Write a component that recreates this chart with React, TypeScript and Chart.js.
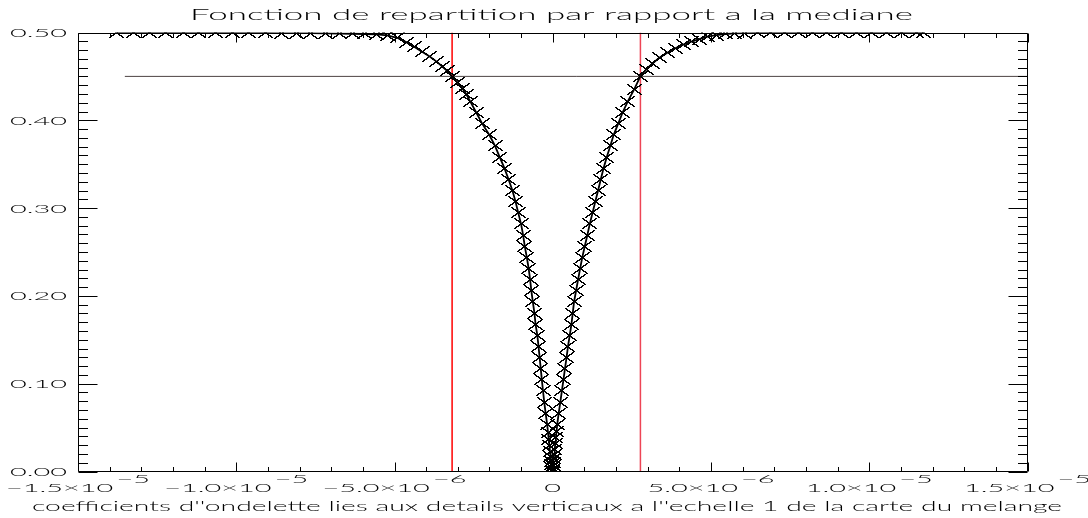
import { useEffect, useRef } from "react";
import { Chart, registerables } from "chart.js";

Chart.register(...registerables);

// ---- data ----
const leftX = [
  -13.77e-6, -13.26e-6, -12.73e-6, -12.22e-6, -11.68e-6, -11.18e-6, -10.64e-6, -10.13e-6,
  -9.6e-6, -9.09e-6, -8.58e-6, -8.11e-6, -7.64e-6, -7.19e-6, -6.75e-6, -6.34e-6,
  -5.96e-6, -5.58e-6, -5.23e-6, -4.92e-6, -4.63e-6, -4.38e-6, -4.13e-6, -3.9e-6,
  -3.68e-6, -3.49e-6, -3.34e-6, -3.18e-6, -3.02e-6, -2.86e-6, -2.73e-6, -2.608e-6,
  -2.418e-6, -2.229e-6, -2.007e-6, -1.824e-6, -1.676e-6, -1.527e-6, -1.398e-6, -1.274e-6,
  -1.176e-6, -1.091e-6, -1.002e-6, -0.936e-6, -0.885e-6, -0.819e-6, -0.762e-6, -0.715e-6,
  -0.677e-6, -0.629e-6, -0.579e-6, -0.544e-6, -0.487e-6, -0.449e-6, -0.414e-6, -0.379e-6,
  -0.345e-6, -0.307e-6, -0.269e-6, -0.224e-6, -0.177e-6, -0.149e-6, -0.126e-6, -0.104e-6,
  -0.085e-6, -0.066e-6, -0.051e-6, -0.038e-6, -0.025e-6, -0.016e-6, -0.006e-6,
];
const leftY = [
  0.5, 0.5, 0.4999, 0.4999, 0.4998, 0.4998, 0.4997, 0.4997,
  0.4996, 0.4995, 0.4994, 0.4993, 0.4992, 0.499, 0.4988, 0.4986,
  0.4983, 0.4979, 0.4968, 0.494, 0.489, 0.4838, 0.4781, 0.4729,
  0.4671, 0.4613, 0.4562, 0.45, 0.4435, 0.4366, 0.4296, 0.4216,
  0.4089, 0.3962, 0.3835, 0.3708, 0.3581, 0.3455, 0.3328, 0.3201,
  0.3074, 0.2947, 0.282, 0.2693, 0.2566, 0.2439, 0.2313, 0.2186,
  0.2059, 0.1932, 0.1805, 0.1678, 0.1551, 0.1424, 0.1298, 0.1171,
  0.1044, 0.0917, 0.079, 0.0663, 0.0536, 0.0444, 0.0363, 0.0294,
  0.0225, 0.0167, 0.0115, 0.0075, 0.004, 0.0017, 0.0,
];
const rightX = [
  0.003e-6, 0.009e-6, 0.016e-6, 0.025e-6, 0.035e-6, 0.047e-6, 0.063e-6, 0.079e-6,
  0.098e-6, 0.12e-6, 0.142e-6, 0.187e-6, 0.24e-6, 0.288e-6, 0.338e-6, 0.386e-6,
  0.436e-6, 0.481e-6, 0.537e-6, 0.591e-6, 0.632e-6, 0.673e-6, 0.737e-6, 0.8e-6,
  0.866e-6, 0.933e-6, 1.012e-6, 1.094e-6, 1.17e-6, 1.258e-6, 1.344e-6, 1.432e-6,
  1.518e-6, 1.606e-6, 1.707e-6, 1.818e-6, 1.925e-6, 2.068e-6, 2.207e-6, 2.371e-6,
  2.577e-6, 2.767e-6, 2.956e-6, 3.146e-6, 3.367e-6, 3.62e-6, 3.873e-6, 4.126e-6,
  4.379e-6, 4.632e-6, 4.885e-6, 5.169e-6, 5.454e-6, 5.739e-6, 6.055e-6, 6.466e-6,
  6.877e-6, 7.32e-6, 7.762e-6, 8.205e-6, 8.648e-6, 9.122e-6, 9.596e-6, 10.07e-6,
  10.544e-6, 11.019e-6, 11.493e-6, 11.714e-6,
];
const rightY = [
  0.0012, 0.0035, 0.0063, 0.0098, 0.0144, 0.0196, 0.0254, 0.0317,
  0.0386, 0.0456, 0.0536, 0.0663, 0.079, 0.0917, 0.1044, 0.1171,
  0.1298, 0.1424, 0.1551, 0.1678, 0.1805, 0.1932, 0.2059, 0.2186,
  0.2313, 0.2439, 0.2566, 0.2693, 0.282, 0.2947, 0.3074, 0.3201,
  0.3328, 0.3455, 0.3581, 0.3708, 0.3835, 0.3962, 0.4089, 0.4216,
  0.4354, 0.45, 0.458, 0.4645, 0.4712, 0.4769, 0.4821, 0.4862,
  0.4896, 0.4925, 0.4954, 0.4971, 0.4983, 0.4991, 0.4994, 0.4996,
  0.4997, 0.4998, 0.4998, 0.4999, 0.4999, 0.4999, 0.5, 0.5,
  0.5, 0.5, 0.5, 0.5,
];

const thresholdLevel = 0.45;
const thresholdStartX = -13.52e-6;
const thresholdEndX = 1.5e-5;
const lowerQuantileX = -3.18e-6;
const upperQuantileX = 2.77e-6;

const xMin = -1.5e-5;
const xMax = 1.5e-5;
const yMin = 0;
const yMax = 0.5;

const xTickValues = [-1.5e-5, -1.0e-5, -5.0e-6, 0, 5.0e-6, 1.0e-5, 1.5e-5];
const xTickMantissa = ["\u22121.5\u00d710", "\u22121.0\u00d710", "\u22125.0\u00d710", "0", "5.0\u00d710", "1.0\u00d710", "1.5\u00d710"];
const xTickExponent = ["\u22125", "\u22125", "\u22126", "", "\u22126", "\u22125", "\u22125"];
const xMinorCount = 30; // minor ticks across the x range
const yTickValues = [0, 0.1, 0.2, 0.3, 0.4, 0.5];
const yTickLabels = ["0.00", "0.10", "0.20", "0.30", "0.40", "0.50"];
const yMinorCount = 50;

const titleText = "Fonction de repartition par rapport a la mediane";
const xTitleText =
  "coefficients d''ondelette lies aux details verticaux a l''echelle 1 de la carte du melange";

const FONT = "Lato, 'DejaVu Sans', sans-serif";

// aliased "X" symbol, like the IDL bitmap output
function makeCross(): HTMLCanvasElement {
  const w = 15;
  const h = 11;
  const c = document.createElement("canvas");
  c.width = w;
  c.height = h;
  const g = c.getContext("2d")!;
  g.fillStyle = "#000";
  for (let i = 0; i < w - 1; i++) {
    const r = Math.round((i * (h - 1)) / (w - 2));
    g.fillRect(i, r, 2, 1);
    g.fillRect(i, h - 1 - r, 2, 1);
  }
  return c;
}

function drawStretched(ctx: CanvasRenderingContext2D, text: string, x: number, y: number, sx: number) {
  ctx.save();
  ctx.translate(x, y);
  ctx.scale(sx, 1);
  ctx.fillText(text, 0, 0);
  ctx.restore();
}

const crispPoints = {
  id: "crispPoints",
  beforeDatasetsDraw(chart: any) {
    chart.ctx.imageSmoothingEnabled = false;
  },
  afterDatasetsDraw(chart: any) {
    chart.ctx.imageSmoothingEnabled = true;
  },
};

const idlAxes = {
  id: "idlAxes",
  afterDatasetsDraw(chart: any) {
    const ctx: CanvasRenderingContext2D = chart.ctx;
    const { left, right, top, bottom } = chart.chartArea;
    const xs = chart.scales.x;
    const ys = chart.scales.y;
    ctx.save();
    ctx.strokeStyle = "#000";
    ctx.lineWidth = 1;
    const L = Math.round(left) + 0.5;
    const R = Math.round(right) - 0.5;
    const T = Math.round(top) + 0.5;
    const B = Math.round(bottom) - 0.5;
    ctx.beginPath();
    ctx.rect(L, T, R - L, B - T);
    for (let i = 0; i <= xMinorCount; i++) {
      const v = xMin + ((xMax - xMin) * i) / xMinorCount;
      const px = Math.round(xs.getPixelForValue(v)) + 0.5;
      const len = i % 5 === 0 ? 9 : 4.5;
      ctx.moveTo(px, B);
      ctx.lineTo(px, B - len);
      ctx.moveTo(px, T);
      ctx.lineTo(px, T + len);
    }
    for (let j = 0; j <= yMinorCount; j++) {
      const v = yMin + ((yMax - yMin) * j) / yMinorCount;
      const py = Math.round(ys.getPixelForValue(v)) + 0.5;
      const len = j % 10 === 0 ? 19 : 9.5;
      ctx.moveTo(L, py);
      ctx.lineTo(L + len, py);
      ctx.moveTo(R, py);
      ctx.lineTo(R - len, py);
    }
    ctx.stroke();

    ctx.fillStyle = "#000";
    ctx.textAlign = "left";
    ctx.textBaseline = "alphabetic";

    ctx.font = `300 12.5px ${FONT}`;
    const tickSx = 57 / ctx.measureText("0.50").width;
    yTickValues.forEach((v, k) => {
      const w = ctx.measureText(yTickLabels[k]).width * tickSx;
      const py = ys.getPixelForValue(v);
      drawStretched(ctx, yTickLabels[k], 67 - w, py + 4.5, tickSx);
    });
    xTickValues.forEach((v, k) => {
      const m = xTickMantissa[k];
      const e = xTickExponent[k];
      const wm = ctx.measureText(m).width * tickSx;
      const gap = e ? 3 : 0;
      const we = e ? ctx.measureText(e).width * tickSx : 0;
      const total = wm + gap + we;
      const px = xs.getPixelForValue(v);
      const x0 = px - total / 2;
      drawStretched(ctx, m, x0, 492, tickSx);
      if (e) drawStretched(ctx, e, x0 + wm + gap, 483, tickSx);
    });

    ctx.font = `300 15px ${FONT}`;
    const tw = ctx.measureText(titleText).width;
    drawStretched(ctx, titleText, 551.5 - 361.5, 20, 723 / tw);

    ctx.font = `300 13px ${FONT}`;
    const xw = ctx.measureText(xTitleText).width;
    drawStretched(ctx, xTitleText, 547 - 515, 511, 1030 / xw);

    ctx.restore();
  },
};

export default function App() {
  const ref = useRef<HTMLCanvasElement>(null);
  useEffect(() => {
    const canvas = ref.current!;
    const cross = makeCross();
    const curve = [
      ...leftX.map((x, i) => ({ x, y: leftY[i] })),
      ...rightX.map((x, i) => ({ x, y: rightY[i] })),
    ];
    const chart = new Chart(canvas, {
      type: "scatter",
      data: {
        datasets: [
          {
            data: curve,
            showLine: true,
            borderColor: "#000",
            borderWidth: 1.8,
            pointStyle: cross as any,
            pointRadius: 7,
            order: 0,
          },
          {
            data: [
              { x: lowerQuantileX, y: yMin },
              { x: lowerQuantileX, y: yMax },
            ],
            showLine: true,
            borderColor: "#ff0000",
            borderWidth: 1.5,
            pointRadius: 0,
            order: 2,
          },
          {
            data: [
              { x: upperQuantileX, y: yMin },
              { x: upperQuantileX, y: yMax },
            ],
            showLine: true,
            borderColor: "#ee4455",
            borderWidth: 1.5,
            pointRadius: 0,
            order: 2,
          },
          {
            data: [
              { x: thresholdStartX, y: thresholdLevel },
              { x: thresholdEndX, y: thresholdLevel },
            ],
            showLine: true,
            borderColor: "#4d4343",
            borderWidth: 1,
            pointRadius: 0,
            order: 3,
          },
        ],
      },
      options: {
        animation: false,
        responsive: false,
        devicePixelRatio: 1,
        events: [],
        layout: { padding: { left: 78, right: 60.5, top: 32.5, bottom: 46.5 } },
        plugins: { legend: { display: false }, tooltip: { enabled: false }, title: { display: false } },
        scales: {
          x: { type: "linear", min: xMin, max: xMax, display: false },
          y: { type: "linear", min: yMin, max: yMax, display: false },
        },
      },
      plugins: [crispPoints, idlAxes],
    });
    return () => chart.destroy();
  }, []);
  return (
    <div style={{ position: "absolute", left: 0, top: 0, width: 1088, height: 518, background: "#fff" }}>
      <canvas ref={ref} width={1088} height={518} style={{ display: "block" }} />
    </div>
  );
}
